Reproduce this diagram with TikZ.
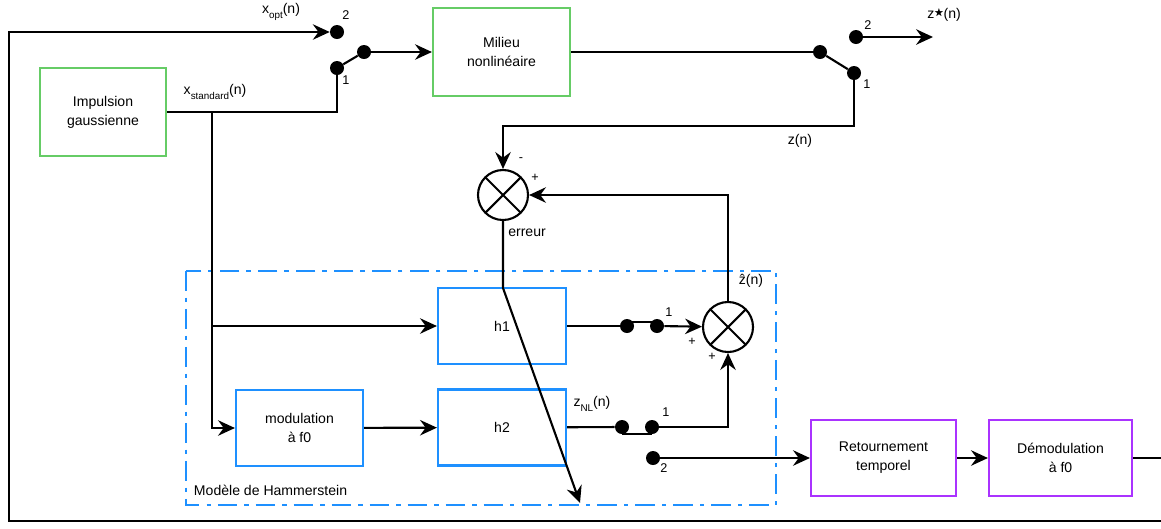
\documentclass[tikz,border=0pt]{standalone}
\usepackage{amssymb}
\usepackage{fontspec}
\setmainfont{Liberation Sans}
\usetikzlibrary{arrows.meta, calc}
\definecolor{impgreen}{RGB}{102,204,102}
\definecolor{hamblue}{RGB}{30,144,255}
\definecolor{retpurple}{RGB}{170,51,255}

\begin{document}
\begin{tikzpicture}[x=0.025cm, y=-0.025cm,
    font=\fontsize{10}{13.5}\selectfont,
    greenbox/.style={draw=impgreen, line width=1.5pt, minimum width=3.15cm, minimum height=2.2cm, align=center},
    bluebox/.style={draw=hamblue, line width=1.5pt, minimum width=3.2cm, minimum height=1.9cm, align=center},
    purplebox/.style={draw=retpurple, line width=1.5pt, minimum width=3.6cm, minimum height=1.9cm, align=center},
    contact/.style={circle, fill=black, inner sep=0pt, minimum size=0.35cm},
    summer/.style={circle, draw, line width=1.5pt, minimum size=1.25cm, inner sep=0pt,
      path picture={\draw[line width=1.5pt] (path picture bounding box.north west) -- (path picture bounding box.south east)
        (path picture bounding box.north east) -- (path picture bounding box.south west);}},
    wire/.style={line width=1.5pt},
    sig/.style={wire, -{Stealth[length=12pt, width=11pt, inset=4pt]}},
    num/.style={font=\small, inner sep=1pt},
    sign/.style={font=\small, inner sep=1pt}
  ]
  \path[use as bounding box, clip] (0,0) rectangle (1161,528);

  % --- blocks ---
  \node[greenbox] (imp) at (103,112) {Impulsion\\gaussienne};
  \node[greenbox, minimum width=3.425cm] (mil) at (501.5,52) {Milieu\\nonlinéaire};
  \node[bluebox, minimum width=3.175cm] (mod) at (299.5,428) {modulation\\à f0};
  \node[bluebox] (h1) at (502,326) {h1};
  \node[bluebox] (h2) at (502,427.5) {h2};
  \node[purplebox, minimum width=3.625cm] (ret) at (883.5,458) {Retournement\\temporel};
  \node[purplebox, minimum width=3.575cm] (dem) at (1060.5,458) {Démodulation\\à f0};

  % Hammerstein frame
  \draw[hamblue, line width=1.5pt, dash pattern=on 14pt off 5pt on 3pt off 5pt] (186,271) rectangle (776,505);
  \node[anchor=west] (hamlbl) at (189,490) {Modèle de Hammerstein};

  % --- comparators ---
  \node[summer] (err) at (503,195) {};
  \node[summer] (sum) at (728,327) {};

  % --- switch contacts ---
  \node[contact] (in2) at (337,32) {};
  \node[contact] (in1) at (337,68) {};
  \node[contact] (inp) at (364,52) {};
  \node[contact] (outp) at (820,52) {};
  \node[contact] (out1) at (854,73) {};
  \node[contact] (out2) at (856,37) {};
  \node[contact] (sa) at (627,326) {};
  \node[contact] (sb) at (657,326) {};
  \node[contact] (sc) at (622,427) {};
  \node[contact] (sd) at (652,427) {};
  \node[contact] (se) at (653,458) {};

  \coordinate (split) at (212,112);
  \coordinate (zout) at (933,37);
  \coordinate (zc) at (503,126);
  \coordinate (bend) at (503,288);
  \coordinate (adj) at (580,503);
  \coordinate (loopa) at (1180,521);
  \coordinate (loopb) at (9,521);

  % --- input side ---
  \draw[sig] (dem.east) -| (loopa) -- (loopb) |- (in2);
  \draw[wire] (in1) -- (inp);
  \draw[sig] (inp) -- (mil);
  \draw[wire] (imp.east) -| (in1);
  \draw[sig] (split) |- (mod);
  \draw[sig] (split |- h1) -- (h1);

  % --- output side ---
  \draw[wire] (mil) -- (outp);
  \draw[wire] (outp) -- (out1);
  \draw[sig] (out2) -- (zout);
  \draw[sig] (out1) |- (zc) -- (err);
  \draw[sig] (sum) |- (err);
  \draw[sig] (err) -- (bend) -- (adj);

  % --- Hammerstein model ---
  \draw[sig] (mod) -- (h2);
  \draw[wire] (h1) -- (sa);
  \draw[wire] ($(sa)+(0,-4)$) -- ($(sb)+(0,-4)$);
  \draw[sig] (sb) -- (sum);
  \draw[wire] (h2) -- (sc);
  \draw[wire] ($(sc)+(0,7)$) -- ($(sd)+(0,7)$);
  \draw[sig] (sd) -| (sum);
  \draw[sig] (se) -- (ret);
  \draw[sig] (ret) -- (dem);

  % --- labels ---
  \node (xopt) at (281,12) {x\raisebox{-4pt}{\scriptsize opt}(n)};
  \node (xstd) at (215,92) {x\raisebox{-4pt}{\scriptsize standard}(n)};
  \node[num] (in2lbl) at (346,15) {2};
  \node[num] (in1lbl) at (346,80) {1};
  \node[num] (out2lbl) at (868,25) {2};
  \node[num] (out1lbl) at (867,84) {1};
  \node (zstar) at (944,15) {z\raisebox{2.5pt}{\scalebox{0.7}{$\bigstar$}}(n)};
  \node (zn) at (800,141) {z(n)};
  \node[sign] (minus) at (521,160) {-};
  \node[sign] (plus) at (535,178) {+};
  \node (erreur) at (527,233) {erreur};
  \node (zhat) at (751,281) {\^{z}(n)};
  \node[num] (sa1) at (669,312) {1};
  \node[num] (sd1) at (666,412) {1};
  \node[num] (se2) at (664,468) {2};
  \node[sign] (plusa) at (692,342) {+};
  \node[sign] (plusb) at (712,357) {+};
  \node (znl) at (592,404) {z\raisebox{-4pt}{\scriptsize NL}(n)};
\end{tikzpicture}
\end{document}
